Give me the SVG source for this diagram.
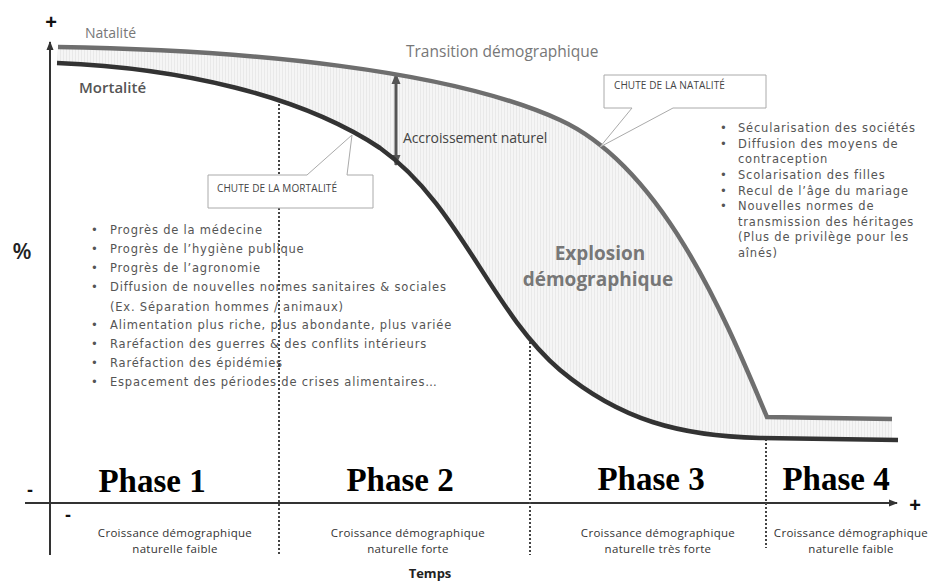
<svg xmlns="http://www.w3.org/2000/svg" width="930" height="581" viewBox="0 0 930 581">
<defs>
  <pattern id="stripes" width="3" height="10" patternUnits="userSpaceOnUse">
    <rect width="3" height="10" fill="#f5f5f5"/>
    <rect width="1" height="10" fill="#e9e9e9"/>
  </pattern>
  <marker id="arrAxis" markerWidth="10" markerHeight="10" refX="8" refY="5" orient="auto" markerUnits="userSpaceOnUse">
    <path d="M0,1.5 L9,5 L0,8.5 Z" fill="#333"/>
  </marker>
  <marker id="arrDbl" markerWidth="12" markerHeight="12" refX="10" refY="6" orient="auto-start-reverse" markerUnits="userSpaceOnUse">
    <path d="M0,1.5 L11,6 L0,10.5 Z" fill="#555"/>
  </marker>
</defs>
<style>
  .axis { stroke:#333; stroke-width:2; fill:none; }
  .dots { stroke:#444; stroke-width:2; stroke-dasharray:2 2; fill:none; }
  .sign { font-family:"Liberation Sans", Arial, sans-serif; font-weight:bold; fill:#111; }
  .lbl { font-family:"Open Sans", "Liberation Sans", sans-serif; }
  .list { font-family:"DejaVu Sans", "Liberation Sans", sans-serif; font-size:11.5px; fill:#555; letter-spacing:0.8px; }
  .callout { fill:#fff; stroke:#aaa; stroke-width:1; }
  .ctext { font-family:"Open Sans", "Liberation Sans", sans-serif; font-size:10px; fill:#444; letter-spacing:0.1px; }
  .phase { font-family:"Liberation Serif", "Times New Roman", serif; font-weight:bold; font-size:33px; fill:#000; }
  .croiss { font-family:"Open Sans", "Liberation Sans", sans-serif; font-size:11.5px; fill:#333; text-anchor:middle; letter-spacing:0.3px; }
</style>

<rect width="930" height="581" fill="#fff"/>

<!-- shaded area between curves -->
<g id="area">
  <path d="M58,47 C250,50 450,70 560,120 C665,168 728,325 767,417 L892,419 L892,439 L760,438 C680,436 620,420 560,370 C490,310 460,205 380,148 C300,95 180,68 57,63 Z" fill="url(#stripes)"/>
</g>

<!-- axes and dotted phase separators -->
<g id="connectors">
  <line class="axis" x1="50" y1="555" x2="50" y2="42" marker-end="url(#arrAxis)"/>
  <line class="axis" x1="25" y1="503" x2="897" y2="503" marker-end="url(#arrAxis)"/>
  <line class="dots" x1="279" y1="100" x2="279" y2="555"/>
  <line class="dots" x1="530" y1="342" x2="530" y2="555"/>
  <line class="dots" x1="766" y1="439" x2="766" y2="548"/>
  <line x1="396" y1="74" x2="396" y2="165" stroke="#555" stroke-width="3" marker-start="url(#arrDbl)" marker-end="url(#arrDbl)"/>
</g>

<!-- curves -->
<g id="natalite">
  <path d="M58,47 C250,50 450,70 560,120 C665,168 728,325 767,417 L892,419" fill="none" stroke="#6e6e6e" stroke-width="4.5"/>
  <text class="lbl" x="85" y="38" font-size="14" fill="#777">Natalité</text>
</g>
<g id="mortalite">
  <path d="M57,63 C180,68 300,95 380,148 C460,205 490,310 560,370 C620,420 680,436 760,438 L898,440" fill="none" stroke="#333" stroke-width="4.5"/>
  <text class="lbl" x="79" y="93" font-size="15" font-weight="600" fill="#555">Mortalité</text>
</g>

<g id="titre">
  <text class="lbl" x="406" y="57" font-size="15.5" fill="#777">Transition démographique</text>
</g>

<g id="accroissement">
  <text class="lbl" x="403" y="143" font-size="14" fill="#444" letter-spacing="-0.1">Accroissement naturel</text>
</g>

<g id="explosion">
  <text class="lbl" x="600" y="260" font-size="19" font-weight="bold" fill="#777" text-anchor="middle">Explosion</text>
  <text class="lbl" x="598" y="286" font-size="19" font-weight="bold" fill="#777" text-anchor="middle">démographique</text>
</g>

<!-- callouts -->
<g id="chute-mortalite">
  <path class="callout" d="M208,175 L307,175 L352,135 L347,175 L373,175 L373,208 L208,208 Z"/>
  <text class="ctext" x="217" y="192">CHUTE DE LA MORTALITÉ</text>
</g>
<g id="chute-natalite">
  <path class="callout" d="M604,75 L766,75 L766,108 L673,108 L600,147 L632,108 L604,108 Z"/>
  <text class="ctext" x="614" y="89">CHUTE DE LA NATALITÉ</text>
</g>

<!-- left list -->
<g id="liste-mortalite" class="list">
  <text x="91" y="234">•</text><text x="110" y="234">Progrès de la médecine</text>
  <text x="91" y="253">•</text><text x="110" y="253">Progrès de l’hygiène publique</text>
  <text x="91" y="272">•</text><text x="110" y="272">Progrès de l’agronomie</text>
  <text x="91" y="291">•</text><text x="110" y="291">Diffusion de nouvelles normes sanitaires &amp; sociales</text>
  <text x="110" y="311">(Ex. Séparation hommes / animaux)</text>
  <text x="91" y="329">•</text><text x="110" y="329">Alimentation plus riche, plus abondante, plus variée</text>
  <text x="91" y="348">•</text><text x="110" y="348">Raréfaction des guerres &amp; des conflits intérieurs</text>
  <text x="91" y="367">•</text><text x="110" y="367">Raréfaction des épidémies</text>
  <text x="91" y="386">•</text><text x="110" y="386">Espacement des périodes de crises alimentaires…</text>
</g>

<!-- right list -->
<g id="liste-natalite" class="list">
  <text x="720" y="132">•</text><text x="738" y="132">Sécularisation des sociétés</text>
  <text x="720" y="148">•</text><text x="738" y="148">Diffusion des moyens de</text>
  <text x="738" y="163">contraception</text>
  <text x="720" y="179">•</text><text x="738" y="179">Scolarisation des filles</text>
  <text x="720" y="195">•</text><text x="738" y="195">Recul de l’âge du mariage</text>
  <text x="720" y="210">•</text><text x="738" y="210">Nouvelles normes de</text>
  <text x="738" y="226">transmission des héritages</text>
  <text x="738" y="241">(Plus de privilège pour les</text>
  <text x="738" y="257">aînés)</text>
</g>

<!-- axis signs -->
<g id="signes">
  <text class="sign" x="51" y="29" font-size="20" text-anchor="middle">+</text>
  <text class="sign" x="915" y="512" font-size="20" text-anchor="middle">+</text>
  <text class="sign" x="30" y="496" font-size="18" text-anchor="middle">-</text>
  <text class="sign" x="68" y="521" font-size="18" text-anchor="middle">-</text>
  <text x="22" y="259" font-family="Open Sans, Liberation Sans, sans-serif" font-size="22" font-weight="600" fill="#222" text-anchor="middle">%</text>
  <text x="430" y="578" font-family="Open Sans, Liberation Sans, sans-serif" font-size="13" font-weight="bold" fill="#222" text-anchor="middle">Temps</text>
</g>

<!-- phases -->
<g id="phase1">
  <text class="phase" x="152" y="492" text-anchor="middle">Phase 1</text>
  <text class="croiss" x="175" y="537">Croissance démographique</text>
  <text class="croiss" x="175" y="553">naturelle faible</text>
</g>
<g id="phase2">
  <text class="phase" x="400" y="491" text-anchor="middle">Phase 2</text>
  <text class="croiss" x="408" y="537">Croissance démographique</text>
  <text class="croiss" x="408" y="553">naturelle forte</text>
</g>
<g id="phase3">
  <text class="phase" x="651" y="490" text-anchor="middle">Phase 3</text>
  <text class="croiss" x="658" y="537">Croissance démographique</text>
  <text class="croiss" x="658" y="553">naturelle très forte</text>
</g>
<g id="phase4">
  <text class="phase" x="836" y="490" text-anchor="middle">Phase 4</text>
  <text class="croiss" x="851" y="537">Croissance démographique</text>
  <text class="croiss" x="851" y="553">naturelle faible</text>
</g>
</svg>
